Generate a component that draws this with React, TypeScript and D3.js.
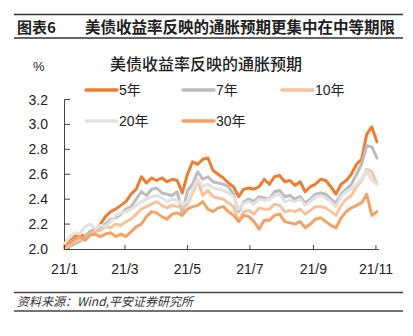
import React from "react";
import * as d3 from "d3";

const START = new Date(2021, 0, 1);
const END = new Date(2021, 10, 4);
const DAY_STEP = 5;

const SERIES_NAMES = ["5年", "7年", "10年", "20年", "30年"];
const SERIES_COLORS = ["#ED7D31", "#BDBDBD", "#F8C29A", "#E2E2E2", "#F4A262"];

const Y5 = [2.02, 2.06, 2.10, 2.12, 2.10, 2.14, 2.15, 2.20, 2.26, 2.30,
  2.32, 2.35, 2.38, 2.44, 2.48, 2.58, 2.53, 2.57, 2.55, 2.57,
  2.54, 2.56, 2.55, 2.45, 2.60, 2.70, 2.68, 2.72, 2.73, 2.63,
  2.60, 2.57, 2.53, 2.50, 2.42, 2.48, 2.49, 2.48, 2.50, 2.56,
  2.52, 2.58, 2.59, 2.54, 2.55, 2.51, 2.54, 2.46, 2.50, 2.52,
  2.56, 2.55, 2.50, 2.44, 2.52, 2.55, 2.60, 2.68, 2.72, 2.92,
  2.98, 2.86];
const Y7 = [2.03, 2.02, 2.04, 2.06, 2.10, 2.14, 2.15, 2.18, 2.20, 2.24,
  2.25, 2.28, 2.32, 2.34, 2.40, 2.46, 2.43, 2.48, 2.49, 2.45,
  2.44, 2.43, 2.46, 2.28, 2.47, 2.52, 2.62, 2.56, 2.58, 2.54,
  2.53, 2.52, 2.50, 2.44, 2.30, 2.38, 2.40, 2.38, 2.42, 2.41,
  2.40, 2.46, 2.47, 2.42, 2.43, 2.40, 2.42, 2.37, 2.40, 2.44,
  2.45, 2.44, 2.40, 2.37, 2.44, 2.48, 2.52, 2.60, 2.68, 2.83,
  2.82, 2.73];
const Y10 = [2.00, 2.03, 2.06, 2.08, 2.07, 2.12, 2.14, 2.15, 2.18, 2.17,
  2.20, 2.19, 2.22, 2.24, 2.28, 2.32, 2.34, 2.36, 2.38, 2.35,
  2.33, 2.35, 2.34, 2.33, 2.36, 2.45, 2.55, 2.43, 2.47, 2.42,
  2.41, 2.40, 2.37, 2.34, 2.22, 2.30, 2.31, 2.28, 2.33, 2.32,
  2.32, 2.36, 2.35, 2.30, 2.31, 2.30, 2.32, 2.28, 2.31, 2.34,
  2.34, 2.33, 2.30, 2.27, 2.35, 2.40, 2.43, 2.50, 2.55, 2.64,
  2.62, 2.52];
const Y20 = [2.04, 2.10, 2.13, 2.12, 2.18, 2.20, 2.16, 2.19, 2.18, 2.22,
  2.27, 2.29, 2.30, 2.32, 2.35, 2.38, 2.40, 2.42, 2.43, 2.41,
  2.38, 2.40, 2.39, 2.36, 2.38, 2.48, 2.56, 2.50, 2.52, 2.49,
  2.48, 2.47, 2.45, 2.42, 2.32, 2.37, 2.38, 2.36, 2.40, 2.39,
  2.40, 2.43, 2.44, 2.38, 2.39, 2.38, 2.40, 2.35, 2.38, 2.42,
  2.43, 2.41, 2.38, 2.34, 2.42, 2.46, 2.48, 2.52, 2.56, 2.63,
  2.55, 2.52];
const Y30 = [2.02, 2.05, 2.08, 2.10, 2.07, 2.11, 2.12, 2.10, 2.12, 2.13,
  2.10, 2.12, 2.10, 2.14, 2.18, 2.20, 2.26, 2.30, 2.29, 2.26,
  2.24, 2.28, 2.29, 2.27, 2.32, 2.34, 2.35, 2.38, 2.32, 2.30,
  2.33, 2.34, 2.30, 2.27, 2.22, 2.27, 2.26, 2.22, 2.16, 2.23,
  2.23, 2.27, 2.28, 2.22, 2.21, 2.20, 2.22, 2.17, 2.20, 2.24,
  2.25, 2.22, 2.19, 2.17, 2.25, 2.30, 2.33, 2.35, 2.37, 2.44,
  2.27, 2.30];

const SERIES = [Y5, Y7, Y10, Y20, Y30];
const Y_TICKS = [2.0, 2.2, 2.4, 2.6, 2.8, 3.0, 3.2];
const X_TICK_MONTHS = [0, 2, 4, 6, 8, 10];
const X_TICK_LABELS = ["21/1", "21/3", "21/5", "21/7", "21/9", "21/11"];

const FONT = "'Liberation Sans', Arial, 'Noto Sans CJK SC', sans-serif";
const CJK = "'Noto Sans CJK SC', 'Liberation Sans', sans-serif";

export default function App() {
  const x = d3.scaleTime().domain([START, END]).range([64.5, 379]);
  const y = d3.scaleLinear().domain([2.0, 3.2]).range([249, 99.5]);
  const dates = Y5.map((_, i) => d3.timeDay.offset(START, i * DAY_STEP));
  const line = d3
    .line<number>()
    .x((_, i) => x(dates[i]))
    .y((v) => y(v));

  const legendPos = [
    [86, 90],
    [183, 90],
    [282, 90],
    [86, 121],
    [183, 121],
  ];

  return (
    <svg
      width={413}
      height={336}
      style={{ position: "absolute", left: 0, top: 0, background: "#fff" }}
    >
      {/* header */}
      <line x1={14} x2={403} y1={14.5} y2={14.5} stroke="#333" strokeWidth={1.6} />
      <text x={17} y={33} fontFamily={CJK} fontSize={15} fontWeight="bold" fill="#222">
        图表6
      </text>
      <text x={85} y={33} fontFamily={CJK} fontSize={15.5} fontWeight="bold" fill="#222">
        美债收益率反映的通胀预期更集中在中等期限
      </text>
      <line x1={14} x2={403} y1={38} y2={38} stroke="#333" strokeWidth={1.6} />

      {/* chart title and unit */}
      <text x={33} y={71} fontFamily={FONT} fontSize={13} fill="#222">
        %
      </text>
      <text x={206} y={70} textAnchor="middle" fontFamily={CJK} fontSize={16} fontWeight={500} fill="#222">
        美债收益率反映的通胀预期
      </text>

      {/* legend */}
      {SERIES_NAMES.map((name, i) => (
        <g key={name}>
          <line
            x1={legendPos[i][0]}
            x2={legendPos[i][0] + 31}
            y1={legendPos[i][1]}
            y2={legendPos[i][1]}
            stroke={SERIES_COLORS[i]}
            strokeWidth={3.5}
            strokeLinecap="round"
          />
          <text
            x={legendPos[i][0] + 33}
            y={legendPos[i][1] + 5}
            fontFamily={FONT}
            fontSize={14}
            fill="#222"
          >
            {name}
          </text>
        </g>
      ))}

      {/* y axis */}
      <line x1={64.5} x2={64.5} y1={y(3.2)} y2={y(2.0)} stroke="#444" strokeWidth={1} />
      {Y_TICKS.map((t) => (
        <g key={t}>
          <line x1={64.5} x2={70} y1={y(t)} y2={y(t)} stroke="#444" strokeWidth={1} />
          <text
            x={48}
            y={y(t) + 5}
            textAnchor="end"
            fontFamily={FONT}
            fontSize={14}
            fill="#222"
          >
            {t.toFixed(1)}
          </text>
        </g>
      ))}

      {/* series */}
      {SERIES.map((s, i) => (
        <path
          key={i}
          d={line(s) || ""}
          fill="none"
          stroke={SERIES_COLORS[i]}
          strokeWidth={3}
          strokeLinejoin="round"
          strokeLinecap="round"
        />
      ))}

      {/* x axis */}
      <line x1={64.5} x2={379} y1={249.5} y2={249.5} stroke="#444" strokeWidth={1} />
      {X_TICK_MONTHS.map((m, i) => {
        const xx = x(new Date(2021, m, 1));
        return (
          <g key={m}>
            <line x1={xx} x2={xx} y1={249.5} y2={245} stroke="#444" strokeWidth={1} />
            <text
              x={xx}
              y={274}
              textAnchor="middle"
              fontFamily={FONT}
              fontSize={14}
              fill="#222"
            >
              {X_TICK_LABELS[i]}
            </text>
          </g>
        );
      })}

      {/* footer */}
      <line x1={14} x2={403} y1={292.5} y2={292.5} stroke="#444" strokeWidth={1.3} />
      <text x={17} y={306} fontFamily={CJK} fontSize={12} fontStyle="italic" fill="#333">
        资料来源：Wind,平安证券研究所
      </text>
      <line x1={14} x2={403} y1={311} y2={311} stroke="#444" strokeWidth={1.3} />
    </svg>
  );
}
